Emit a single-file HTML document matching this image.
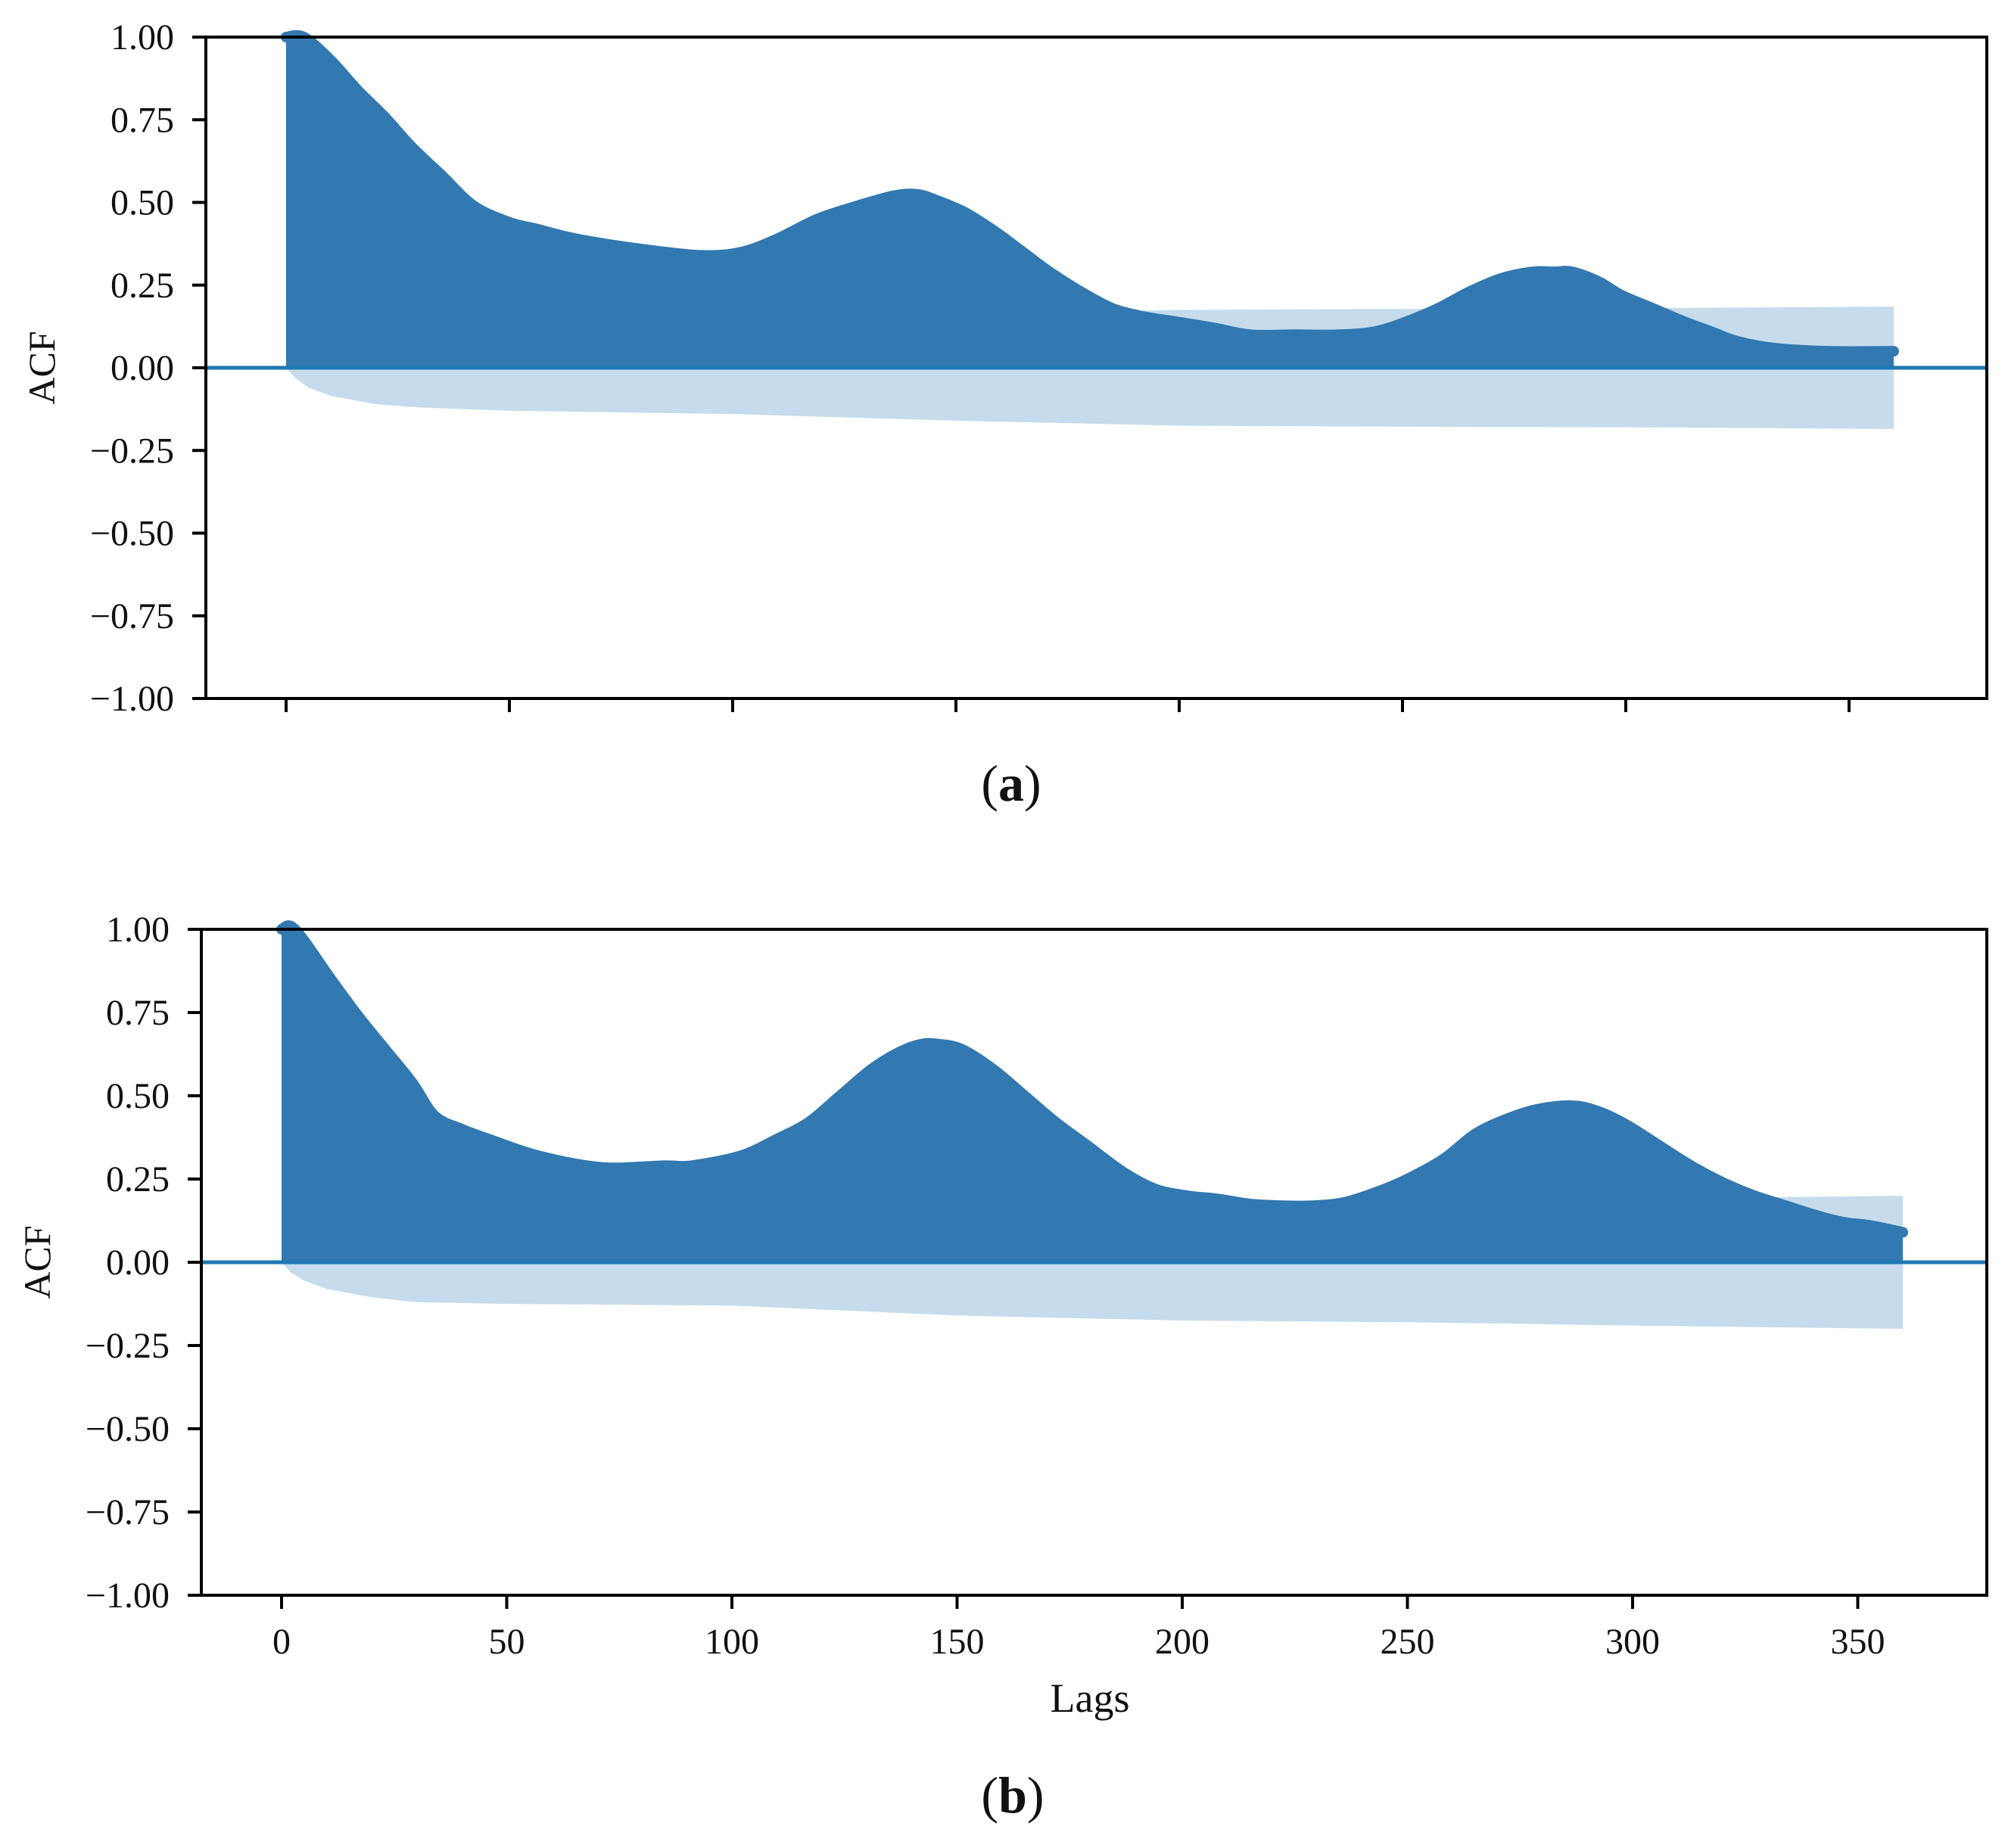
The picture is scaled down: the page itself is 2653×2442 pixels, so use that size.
<!DOCTYPE html>
<html><head><meta charset="utf-8"><style>
html,body{margin:0;padding:0;background:#fff;}
svg text{font-family:"Liberation Serif",serif;fill:#111;}
</style></head><body>
<svg id="fig" width="2653" height="2437" viewBox="0 0 2653 2437" xmlns="http://www.w3.org/2000/svg"></svg>
<script>
// Panel (a) data
const lagsA = [0,4,10,16,22,28,35,42,50,56,65,79,93,102,110,119,128,136,141,145,152,159,165,171,178,185,192,199,208,216,226,236,244,251,258,265,272,279,284,288,294,299,306,313,319,325,333,345,360];
const acfA  = [1.0,1.0,0.93,0.84,0.76,0.67,0.58,0.49,0.44,0.42,0.39,0.36,0.34,0.35,0.39,0.45,0.49,0.52,0.525,0.51,0.47,0.41,0.35,0.29,0.23,0.18,0.155,0.14,0.12,0.10,0.10,0.10,0.11,0.14,0.18,0.23,0.27,0.29,0.29,0.29,0.26,0.22,0.18,0.14,0.11,0.08,0.06,0.05,0.05];
const bandLagsA = [0,2,5,10,20,30,50,100,150,200,250,300,360];
const bandA = [0.0,0.03,0.06,0.085,0.11,0.12,0.13,0.14,0.16,0.175,0.178,0.18,0.185];
// Panel (b) data
const lagsB = [0,3,11,17,23,29,34,40,46,57,71,85,91,102,110,117,124,131,137,142,146,151,158,165,172,179,187,194,201,208,215,222,229,236,243,250,258,265,272,279,287,293,299,306,313,320,327,334,341,347,353,360];
const acfB  = [1.0,1.0,0.85,0.74,0.64,0.54,0.44,0.40,0.37,0.32,0.285,0.29,0.29,0.32,0.37,0.42,0.50,0.58,0.63,0.655,0.655,0.64,0.58,0.50,0.42,0.35,0.27,0.22,0.20,0.19,0.175,0.17,0.17,0.18,0.21,0.25,0.31,0.385,0.43,0.46,0.47,0.45,0.41,0.35,0.29,0.24,0.20,0.17,0.14,0.12,0.11,0.09];
const bandLagsB = [0,2,5,10,20,30,50,100,150,200,250,300,360];
const bandB = [0.0,0.03,0.055,0.08,0.105,0.12,0.125,0.13,0.16,0.175,0.18,0.19,0.2];
const yTicks = [1.0,0.75,0.5,0.25,0,-0.25,-0.5,-0.75,-1.0];
const yTickLabels = ["1.00","0.75","0.50","0.25","0.00","\u22120.25","\u22120.50","\u22120.75","\u22121.00"];
const xTicks = [0,50,100,150,200,250,300,350];
const xTickLabels = ["0","50","100","150","200","250","300","350"];

const NS="http://www.w3.org/2000/svg";
const svg=document.getElementById('fig');
function mk(tag,attrs,parent){const e=document.createElementNS(NS,tag);for(const k in attrs)e.setAttribute(k,attrs[k]);(parent||svg).appendChild(e);return e;}
function smooth(pts){
  let d='';
  for(let i=0;i<pts.length-1;i++){
    const p0=pts[Math.max(0,i-1)],p1=pts[i],p2=pts[i+1],p3=pts[Math.min(pts.length-1,i+2)];
    const c1=[p1[0]+(p2[0]-p0[0])/6,p1[1]+(p2[1]-p0[1])/6];
    const c2=[p2[0]-(p3[0]-p1[0])/6,p2[1]-(p3[1]-p1[1])/6];
    d+=' C'+c1[0]+','+c1[1]+' '+c2[0]+','+c2[1]+' '+p2[0]+','+p2[1];
  }
  return d;
}
function panel(cfg){
  const g=mk('g',{});
  
  
  const X=l=>cfg.x0+l*cfg.xs;
  const Y=v=>cfg.top+(1-v)/2*(cfg.bottom-cfg.top);
  let d='M'+X(cfg.bl[0])+','+Y(cfg.bv[0]);
  for(let i=1;i<cfg.bl.length;i++) d+=' L'+X(cfg.bl[i])+','+Y(cfg.bv[i]);
  for(let i=cfg.bl.length-1;i>=0;i--) d+=' L'+X(cfg.bl[i])+','+Y(-cfg.bv[i]);
  const band=mk('path',{d:d+'Z',fill:'#c6dcec'},g);
  
  
  const pts=cfg.lags.map((l,i)=>[X(l),Y(cfg.acf[i])]);
  const curve=smooth(pts);
  const a='M'+pts[0][0]+','+Y(0)+' L'+pts[0][0]+','+pts[0][1]+curve+' L'+pts[pts.length-1][0]+','+Y(0)+'Z';
  const area=mk('path',{d:a,fill:'#3278b1'},g);
  
  
  const top=mk('path',{d:'M'+pts[0][0]+','+pts[0][1]+curve,fill:'none',stroke:'#3278b1','stroke-width':14,'stroke-linejoin':'round','stroke-linecap':'round'},g);
  
  
  const zl=mk('line',{x1:cfg.left,x2:cfg.right,y1:Y(0),y2:Y(0),stroke:'#1f77b4','stroke-width':5},g);
  
  
  const fr=mk('rect',{x:cfg.left,y:cfg.top,width:cfg.right-cfg.left,height:cfg.bottom-cfg.top,fill:'none',stroke:'#000','stroke-width':4},g);
  
  
  yTicks.forEach((v,i)=>{
    mk('line',{x1:cfg.left-18,x2:cfg.left,y1:Y(v),y2:Y(v),stroke:'#000','stroke-width':4},g);
    const tx=mk('text',{x:cfg.left-42,y:Y(v)+16,'font-size':48,'text-anchor':'end'},g);
    
    
    tx.textContent=yTickLabels[i];
  });
  xTicks.forEach((v,i)=>{
    mk('line',{x1:X(v),x2:X(v),y1:cfg.bottom,y2:cfg.bottom+18,stroke:'#000','stroke-width':4},g);
    if(cfg.xlabels){
      const tx=mk('text',{x:X(v),y:cfg.bottom+77,'font-size':48,'text-anchor':'middle'},g);
      
      
      tx.textContent=xTickLabels[i];
    }
  });
  const yl=mk('text',{x:0,y:0,'font-size':50,'text-anchor':'middle',transform:'translate('+(cfg.left-200)+','+Y(0)+') rotate(-90)'},g);
  
  
  yl.textContent='ACF';
}
panel({name:'panel-a',left:272,right:2625,top:49,bottom:923,x0:378,xs:5.9,lags:lagsA,acf:acfA,bl:bandLagsA,bv:bandA,xlabels:false});
panel({name:'panel-b',left:266,right:2625,top:1228,bottom:2108,x0:372,xs:5.95,lags:lagsB,acf:acfB,bl:bandLagsB,bv:bandB,xlabels:true});

const xl=mk('text',{x:1440,y:2262,'font-size':54,'text-anchor':'middle'});


xl.textContent='Lags';
const ca=mk('text',{x:1336,y:1058,'font-size':68,'text-anchor':'middle'});


ca.innerHTML='(<tspan font-weight="bold">a</tspan>)';
const cb=mk('text',{x:1338,y:2395,'font-size':68,'text-anchor':'middle'});


cb.innerHTML='(<tspan font-weight="bold">b</tspan>)';
</script>
</body></html>
